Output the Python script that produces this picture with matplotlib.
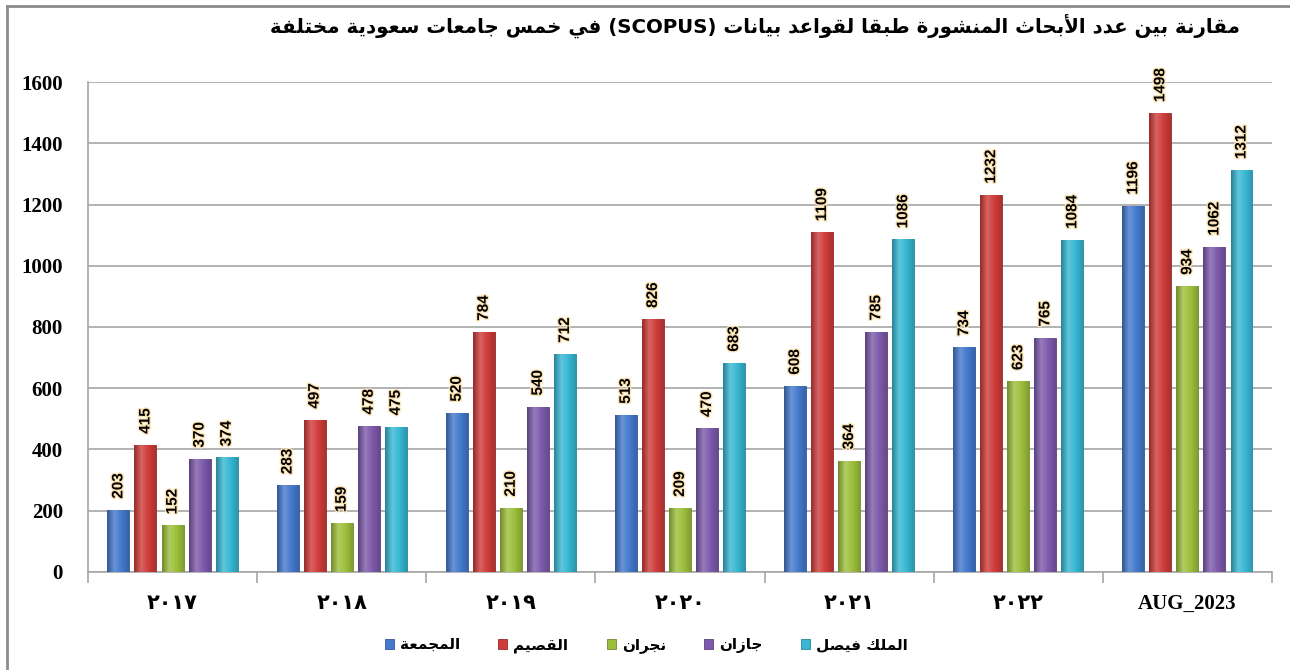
import matplotlib
matplotlib.use("Agg")
import matplotlib.pyplot as plt
import matplotlib.patheffects as pe
from matplotlib.colors import LinearSegmentedColormap, to_rgb
from matplotlib.lines import Line2D
import numpy as np

# ---- data ----
years = ["٢٠١٧", "٢٠١٨", "٢٠١٩", "٢٠٢٠", "٢٠٢١", "٢٠٢٢", "AUG_2023"]
majmaah = [203, 283, 520, 513, 608, 734, 1196]
qassim = [415, 497, 784, 826, 1109, 1232, 1498]
najran = [152, 159, 210, 209, 364, 623, 934]
jazan = [370, 478, 540, 470, 785, 765, 1062]
faisal = [374, 475, 712, 683, 1086, 1084, 1312]
names = ["المجمعة", "القصيم", "نجران", "جازان", "الملك فيصل"]
colors = ["#4479cc", "#cf3c3a", "#9dc03c", "#7d5aab", "#37b7d3"]
title = "مقارنة بين عدد الأبحاث المنشورة طبقا لقواعد بيانات (SCOPUS) في خمس جامعات سعودية مختلفة"

# ---- minimal arabic shaping (matplotlib does no shaping / bidi) ----
DUAL = {'ب': 0xFE8F, 'ت': 0xFE95, 'ث': 0xFE99, 'ج': 0xFE9D, 'ح': 0xFEA1, 'خ': 0xFEA5,
        'س': 0xFEB1, 'ش': 0xFEB5, 'ص': 0xFEB9, 'ض': 0xFEBD, 'ط': 0xFEC1, 'ظ': 0xFEC5,
        'ع': 0xFEC9, 'غ': 0xFECD, 'ف': 0xFED1, 'ق': 0xFED5, 'ك': 0xFED9, 'ل': 0xFEDD,
        'م': 0xFEE1, 'ن': 0xFEE5, 'ه': 0xFEE9, 'ي': 0xFEF1, 'ئ': 0xFE89}
RIGHT = {'آ': 0xFE81, 'أ': 0xFE83, 'ؤ': 0xFE85, 'إ': 0xFE87, 'ا': 0xFE8D, 'ة': 0xFE93,
         'د': 0xFEA9, 'ذ': 0xFEAB, 'ر': 0xFEAD, 'ز': 0xFEAF, 'و': 0xFEED, 'ى': 0xFEEF}
LAMALEF = {'آ': 0xFEF5, 'أ': 0xFEF7, 'إ': 0xFEF9, 'ا': 0xFEFB}


def shape(word):
    out = []
    i = 0
    n = len(word)
    while i < n:
        c = word[i]
        prev = word[i - 1] if i > 0 else None
        link_prev = prev in DUAL and (c in DUAL or c in RIGHT)
        if c == 'ل' and i + 1 < n and word[i + 1] in LAMALEF:
            out.append(chr(LAMALEF[word[i + 1]] + (1 if link_prev else 0)))
            i += 2
            continue
        if c in DUAL:
            nxt = word[i + 1] if i + 1 < n else None
            link_next = nxt in DUAL or nxt in RIGHT
            off = 3 if (link_prev and link_next) else 1 if link_prev else 2 if link_next else 0
            out.append(chr(DUAL[c] + off))
        elif c in RIGHT:
            out.append(chr(RIGHT[c] + (1 if link_prev else 0)))
        else:
            out.append(c)
        i += 1
    return ''.join(out)


def rtl(text):
    words = []
    for w in reversed(text.split(' ')):
        if any('\u0600' <= ch <= '\u06FF' for ch in w):
            words.append(shape(w)[::-1])
        else:
            words.append(w)
    return ' '.join(words)


fig = plt.figure(figsize=(12.9, 6.7), dpi=100)
ax = fig.add_axes([0.0682, 0.1463, 0.9178, 0.7313])

series = [majmaah, qassim, najran, jazan, faisal]
x = np.arange(len(years))
w = 0.13
step = 0.16
grad = np.linspace(0, 1, 64).reshape(1, -1)

for k, (vals, col) in enumerate(zip(series, colors)):
    pos = x + (k - 2) * step
    base = np.array(to_rgb(col))
    dark = base * 0.72
    light = np.clip(base + (1 - base) * 0.2, 0, 1)
    cmap = LinearSegmentedColormap.from_list("g%d" % k, [dark, light, base, base * 0.82])
    bars = ax.bar(pos, vals, width=w, color=col, edgecolor=dark, linewidth=0.6,
                  label=rtl(names[k]), zorder=3)
    for b in bars:
        bx, by = b.get_x(), b.get_y()
        im = ax.imshow(grad, cmap=cmap, aspect='auto', zorder=3.5,
                       extent=[bx, bx + b.get_width(), by, by + b.get_height()])
        im.set_clip_path(b)
    for p, v in zip(pos, vals):
        ax.annotate(str(v), (p, v), xytext=(0, 8), textcoords='offset points',
                    rotation=90, ha='center', va='bottom', fontsize=11,
                    fontweight='bold', family='Liberation Sans', zorder=5,
                    path_effects=[pe.withStroke(linewidth=2, foreground='#fbe3b4')])

ax.set_xlim(-0.5, len(years) - 0.5)
ax.set_ylim(0, 1600)
ax.set_yticks(range(0, 1601, 200))
ax.yaxis.grid(True, color='#a6a6a6', linewidth=1.2, zorder=0)
ax.set_axisbelow(True)
for s in ['top', 'right']:
    ax.spines[s].set_visible(False)
ax.spines['left'].set_color('#a6a6a6')
ax.spines['bottom'].set_color('#a6a6a6')
ax.spines['left'].set_linewidth(1.2)
ax.spines['bottom'].set_linewidth(1.2)

ax.set_xticks(x)
ax.set_xticklabels(years)
ax.set_xticks(np.arange(-0.5, len(years), 1), minor=True)
ax.tick_params(axis='x', which='major', length=0, pad=16)
ax.tick_params(axis='x', which='minor', length=8, color='#a6a6a6', width=1.2)
ax.tick_params(axis='y', length=0, pad=18)
for lab in ax.get_xticklabels():
    lab.set_fontfamily(['Liberation Serif', 'DejaVu Sans'])
    lab.set_fontweight('bold')
    lab.set_fontsize(15)
for lab in ax.get_yticklabels():
    lab.set_fontfamily('Liberation Serif')
    lab.set_fontweight('bold')
    lab.set_fontsize(15)

fig.text(0.961, 0.962, rtl(title), ha='right', va='center', fontsize=14.2,
         fontweight='bold', family='DejaVu Sans')

fig.legend(loc='center', bbox_to_anchor=(0.501, 0.037), ncol=5, frameon=False,
           prop={'family': 'DejaVu Sans', 'weight': 'bold', 'size': 11},
           handlelength=0.6, handleheight=0.6, handletextpad=0.4, columnspacing=2.5)

# outer border of the chart area
fig.add_artist(Line2D([0.0054, 0.0054], [0, 0.991], color='#8c8c8c', linewidth=2))
fig.add_artist(Line2D([0.0054, 1], [0.991, 0.991], color='#8c8c8c', linewidth=2))

fig.savefig("out.png", dpi=100)
